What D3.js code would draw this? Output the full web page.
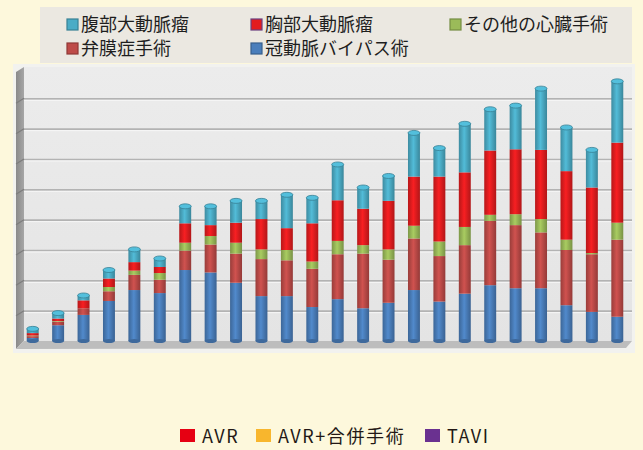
<!DOCTYPE html>
<html>
<head>
<meta charset="utf-8">
<script src="https://cdn.jsdelivr.net/npm/d3@7"></script>
<style>
  body { margin: 0; background: #fdf8dc; }
  svg { display: block; font-family: "Noto Sans CJK JP", "Noto Sans", sans-serif; }
</style>
</head>
<body>
<svg id="chart" width="643" height="450"></svg>
<script>
  // categories (no labels shown on the chart)
  const bars = ["1", "2", "3", "4", "5", "6", "7", "8", "9", "10", "11", "12",
    "13", "14", "15", "16", "17", "18", "19", "20", "21", "22", "23", "24"];

  // series, bottom to top of each stack
  const cabg = [5, 26, 43, 66, 84, 79, 117, 113, 96, 74, 74, 56, 69, 54, 63, 84, 65, 78, 92, 87, 87, 59, 48, 40];
  const valve = [3, 6, 11, 16, 25, 22, 32, 46, 48, 61, 59, 63, 74, 90, 71, 85, 75, 80, 106, 104, 92, 91, 95, 127];
  const other = [1, 1, 0, 7, 7, 11, 13, 14, 18, 16, 17, 12, 22, 14, 17, 21, 24, 30, 10, 18, 22, 17, 2, 28];
  const thoracic = [4, 4, 13, 14, 14, 10, 32, 18, 33, 50, 36, 63, 67, 60, 80, 81, 107, 90, 106, 107, 114, 113, 108, 132];
  const abdominal = [7, 9, 8, 14, 21, 14, 28, 31, 36, 30, 55, 42, 59, 35, 41, 72, 47, 80, 68, 72, 101, 72, 62, 101];

  const seriesKeys = ["cabg", "valve", "other", "thoracic", "abdominal"];
  const seriesNames = {
    abdominal: "腹部大動脈瘤", thoracic: "胸部大動脈瘤", other: "その他の心臓手術",
    valve: "弁膜症手術", cabg: "冠動脈バイパス術"
  };
  const colors = {
    cabg: "#4a7ebb", valve: "#be4b48", other: "#9bbb59",
    thoracic: "#e31c1f", abdominal: "#4bacc6"
  };

  // bottom legend
  const noteLabels = ["AVR", "AVR+合併手術", "TAVI"];
  const noteColors = ["#e60012", "#f8b62d", "#6a3190"];

  const yMax = 450, yStep = 50;

  const table = bars.map((b, i) => ({
    bar: b, cabg: cabg[i], valve: valve[i], other: other[i],
    thoracic: thoracic[i], abdominal: abdominal[i]
  }));
  const stacked = d3.stack().keys(seriesKeys)(table);

  const svg = d3.select("#chart");
  const defs = svg.append("defs");

  // horizontal shading to make the bars look round
  seriesKeys.forEach(k => {
    const c = d3.color(colors[k]);
    const g = defs.append("linearGradient").attr("id", "g-" + k)
      .attr("x1", 0).attr("x2", 1).attr("y1", 0).attr("y2", 0);
    g.append("stop").attr("offset", 0).attr("stop-color", c.darker(0.6));
    g.append("stop").attr("offset", 0.45).attr("stop-color", c.brighter(0.25));
    g.append("stop").attr("offset", 1).attr("stop-color", c.darker(0.7));
  });
  const bg = defs.append("linearGradient").attr("id", "bg")
    .attr("x1", 0).attr("x2", 0).attr("y1", 0).attr("y2", 1);
  bg.append("stop").attr("offset", 0).attr("stop-color", "#ececec");
  bg.append("stop").attr("offset", 1).attr("stop-color", "#e4e4e4");
  const wall = defs.append("linearGradient").attr("id", "wall")
    .attr("x1", 0).attr("x2", 1).attr("y1", 0).attr("y2", 0);
  wall.append("stop").attr("offset", 0).attr("stop-color", "#8a8a8a");
  wall.append("stop").attr("offset", 1).attr("stop-color", "#a6a6a6");

  // top legend
  svg.append("rect").attr("x", 40).attr("y", 7).attr("width", 592).attr("height", 56)
    .attr("fill", "#ebe8e1");
  const legendOrder = ["abdominal", "thoracic", "other", "valve", "cabg"];
  const legCols = [67, 251, 450];
  const legend = svg.append("g").selectAll("g").data(legendOrder).join("g")
    .attr("transform", (d, i) => `translate(${legCols[i % 3]},${i < 3 ? 19 : 43})`);
  legend.append("rect").attr("width", 11).attr("height", 11)
    .attr("fill", d => colors[d])
    .attr("stroke", d => d === "thoracic" ? "#6b3f7f" : d3.color(colors[d]).darker(0.8))
    .attr("stroke-width", 1.2);
  legend.append("text").attr("x", 14).attr("y", 12)
    .attr("font-size", 18).attr("fill", "#1e1e1e")
    .text(d => seriesNames[d]);

  // plot panel
  const plotLeft = 24, plotRight = 632, plotTop = 68, base = 341;
  svg.append("rect").attr("x", 13).attr("y", 64).attr("width", 622).attr("height", 289)
    .attr("fill", "#f2f2ef");
  svg.append("rect").attr("x", plotLeft).attr("y", 67).attr("width", plotRight - plotLeft)
    .attr("height", base - 67).attr("fill", "url(#bg)");
  svg.append("path")
    .attr("d", `M16,${plotTop + 4} L${plotLeft},${plotTop - 1} L${plotLeft},${base} L16,${base + 8} Z`)
    .attr("fill", "url(#wall)");
  svg.append("path")
    .attr("d", `M16,${base + 8} L${plotLeft},${base} L${plotRight},${base} L${plotRight - 6},${base + 7} Z`)
    .attr("fill", "#bdbdbd");

  const x = d3.scaleBand().domain(bars).range([20, 630])
    .paddingInner(0.53).paddingOuter(0.265);
  const y = d3.scaleLinear().domain([0, yMax]).range([base, plotTop]);

  const ticks = d3.range(yStep, yMax, yStep);
  const grid = svg.append("g").attr("transform", `translate(${plotLeft},0)`)
    .call(d3.axisLeft(y).tickValues(ticks).tickSize(-(plotRight - plotLeft)).tickFormat(""));
  grid.select(".domain").remove();
  grid.selectAll("line").attr("stroke", "#b3b3b3").attr("stroke-width", 1.6);
  grid.selectAll(".tick").append("line")
    .attr("x1", 0).attr("x2", plotRight - plotLeft).attr("y1", 1.5).attr("y2", 1.5)
    .attr("stroke", "#f7f7f7").attr("stroke-width", 1);
  // gridline continuation on the side wall
  svg.append("g").selectAll("line").data(ticks).join("line")
    .attr("x1", 16).attr("x2", plotLeft)
    .attr("y1", d => y(d) + 5).attr("y2", d => y(d))
    .attr("stroke", "#7d7d7d").attr("stroke-width", 1.2);

  // bars
  const layers = svg.append("g").selectAll("g").data(stacked).join("g")
    .attr("fill", d => "url(#g-" + d.key + ")");
  layers.selectAll("rect").data(d => d).join("rect")
    .attr("x", d => x(d.data.bar))
    .attr("width", x.bandwidth())
    .attr("y", d => y(d[1]))
    .attr("height", d => Math.max(0, y(d[0]) - y(d[1])));

  // rounded caps on top of each cylinder
  const topLayer = stacked[stacked.length - 1];
  svg.append("g").selectAll("ellipse").data(topLayer).join("ellipse")
    .attr("cx", d => x(d.data.bar) + x.bandwidth() / 2)
    .attr("cy", d => y(d[1]))
    .attr("rx", x.bandwidth() / 2)
    .attr("ry", 2.5)
    .attr("fill", d3.color(colors.abdominal).brighter(0.3))
    .attr("stroke", d3.color(colors.abdominal).darker(0.8))
    .attr("stroke-width", 0.8);
  svg.append("g").selectAll("ellipse").data(stacked[0]).join("ellipse")
    .attr("cx", d => x(d.data.bar) + x.bandwidth() / 2)
    .attr("cy", d => y(d[0]))
    .attr("rx", x.bandwidth() / 2)
    .attr("ry", 2)
    .attr("fill", d3.color(colors.cabg).darker(0.5));

  // bottom legend
  const noteX = [180, 256, 425];
  const note = svg.append("g").selectAll("g").data(noteLabels).join("g")
    .attr("transform", (d, i) => `translate(${noteX[i]},429)`);
  note.append("rect").attr("width", 15).attr("height", 13)
    .attr("fill", (d, i) => noteColors[i]);
  note.append("text").attr("x", 22).attr("y", 13.5)
    .attr("font-size", 18).attr("letter-spacing", 1.6).attr("fill", "#231815")
    .text(d => d);
</script>
</body>
</html>
